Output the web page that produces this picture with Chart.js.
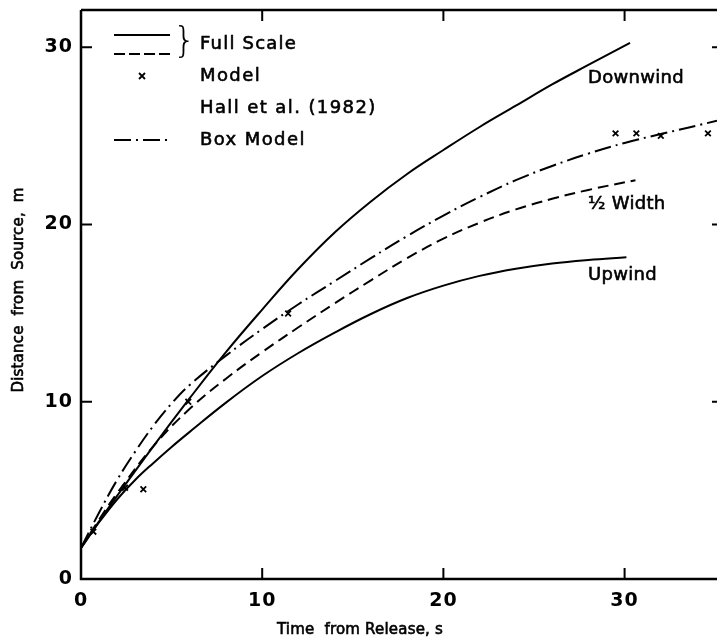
<!DOCTYPE html>
<html><head><meta charset="utf-8">
<script src="https://cdn.jsdelivr.net/npm/chart.js@4"></script>
<style>html,body{margin:0;padding:0;background:#fff}#wrap{position:relative;width:717px;height:644px}</style>
</head><body><div id="wrap"><canvas id="c" width="717" height="644"></canvas></div>
<script>
// ---- data ----
const xTickValues = [0, 10, 20, 30];
const yTickValues = [0, 10, 20, 30];
const downwindX = [0, 1, 2, 4, 6, 8, 10, 12, 14, 16, 18, 20, 22, 24, 26, 28, 30.3];
const downwindY = [1.75, 3.25, 4.7, 7.5, 10.2, 12.8, 15.2, 17.5, 19.55, 21.3, 22.85, 24.2, 25.5, 26.7, 27.9, 29.0, 30.25];
const halfWidthX = [0, 1, 2, 4, 6, 8, 10, 12, 14, 16, 18, 20, 22, 24, 26, 28, 30.6];
const halfWidthY = [1.75, 3.35, 4.85, 7.5, 9.6, 11.3, 12.8, 14.2, 15.55, 16.85, 18.1, 19.2, 20.1, 20.85, 21.45, 21.95, 22.5];
const upwindX = [0, 1, 2, 3, 4, 5, 6, 8, 10, 12, 14, 16, 18, 20, 22, 24, 26, 28, 30.1];
const upwindY = [1.75, 3.2, 4.5, 5.6, 6.55, 7.45, 8.3, 9.95, 11.45, 12.75, 13.9, 14.95, 15.85, 16.55, 17.1, 17.5, 17.8, 18.0, 18.15];
const boxX = [0, 1, 2, 3, 4, 5, 6, 8, 10, 12, 14, 16, 18, 20, 22, 24, 26, 28, 30, 32, 35.1];
const boxY = [1.75, 3.75, 5.6, 7.2, 8.65, 9.9, 10.95, 12.6, 14.1, 15.5, 16.8, 18.1, 19.35, 20.5, 21.55, 22.5, 23.3, 24.0, 24.6, 25.1, 25.85];
const modelX = [0.68, 2.43, 3.44, 5.92, 11.43, 29.5, 30.65, 32.0, 34.6];
const modelY = [2.67, 5.15, 5.06, 10.0, 14.98, 25.14, 25.14, 25.0, 25.14];
const curveLabels = ['Downwind', '½ Width', 'Upwind'];
const legendTexts = ['Full Scale', 'Model', 'Hall et al. (1982)', 'Box Model'];
const xTitle = 'Time  from Release, s';
const yTitle = 'Distance  from  Source,  m';

const FONT = '"DejaVu Sans", sans-serif';
const pts = (xs, ys) => xs.map((x, i) => ({x, y: ys[i]}));

function txt(ctx, s, x, y, spacing) {
  ctx.letterSpacing = spacing + 'px';
  ctx.lineWidth = 0.6;
  ctx.strokeText(s, x, y);
  ctx.fillText(s, x, y);
}
function noPad(s) { s.paddingTop = 0; s.paddingBottom = 0; s.paddingLeft = 0; s.paddingRight = 0; }

const decor = {
  id: 'decor',
  beforeDraw(chart) { chart.ctx.letterSpacing = '1px'; },
  afterDraw(chart) {
    const {ctx, chartArea: a, scales: {x, y}} = chart;
    ctx.save();
    ctx.letterSpacing = '0px';
    ctx.strokeStyle = '#000';
    ctx.fillStyle = '#000';
    ctx.lineWidth = 2.5;
    ctx.lineCap = 'butt';
    // axis frame: left, bottom, top
    ctx.beginPath();
    ctx.moveTo(a.left, a.top); ctx.lineTo(a.left, a.bottom); ctx.lineTo(a.right, a.bottom);
    ctx.moveTo(a.left, a.top); ctx.lineTo(a.right, a.top);
    ctx.stroke();
    // inward ticks
    ctx.lineWidth = 2;
    ctx.beginPath();
    xTickValues.slice(1).forEach(v => {
      const px = x.getPixelForValue(v);
      ctx.moveTo(px, a.bottom); ctx.lineTo(px, a.bottom - 11);
      ctx.moveTo(px, a.top); ctx.lineTo(px, a.top + 11);
    });
    yTickValues.slice(1).forEach(v => {
      const py = y.getPixelForValue(v);
      ctx.moveTo(a.left, py); ctx.lineTo(a.left + 11, py);
      ctx.moveTo(a.right, py); ctx.lineTo(a.right - 5, py);
    });
    ctx.stroke();

    // legend symbols
    ctx.lineWidth = 2;
    ctx.beginPath(); ctx.setLineDash([]);
    ctx.moveTo(114, 35); ctx.lineTo(170, 35); ctx.stroke();
    ctx.beginPath(); ctx.setLineDash([11, 4]);
    ctx.moveTo(114, 54); ctx.lineTo(172, 54); ctx.stroke();
    ctx.beginPath(); ctx.setLineDash([17, 5, 2, 5]);
    ctx.moveTo(114, 140); ctx.lineTo(172, 140); ctx.stroke();
    ctx.setLineDash([]);
    ctx.lineWidth = 1.8;
    ctx.beginPath();
    ctx.moveTo(139, 73); ctx.lineTo(145, 79); ctx.moveTo(145, 73); ctx.lineTo(139, 79);
    ctx.stroke();
    ctx.textBaseline = 'middle';
    ctx.textAlign = 'left';
    ctx.font = '200 36px ' + FONT;
    ctx.fillText('}', 173, 43);
    ctx.font = '18px ' + FONT;
    txt(ctx, legendTexts[0], 200, 44, 1.2);
    txt(ctx, legendTexts[1], 200, 76, 1.4);
    txt(ctx, legendTexts[2], 200, 108, 1.4);
    txt(ctx, legendTexts[3], 200, 140, 1.4);

    // curve labels
    ctx.font = '18px ' + FONT;
    txt(ctx, curveLabels[0], 588, 78, 0.3);
    txt(ctx, curveLabels[1], 588, 204, 0.3);
    txt(ctx, curveLabels[2], 588, 275, 0.3);

    // axis titles
    ctx.font = '15px ' + FONT;
    ctx.textAlign = 'center';
    txt(ctx, xTitle, 360, 630, 0.2);
    ctx.translate(19, 290);
    ctx.rotate(-Math.PI / 2);
    txt(ctx, yTitle, 0, 0, 0.2);
    ctx.restore();
  }
};

const lineDs = (xs, ys, dash) => ({data: pts(xs, ys), borderColor: '#000', borderWidth: 2, borderDash: dash, pointRadius: 0, tension: 0.4, fill: false});

new Chart(document.getElementById('c'), {
  type: 'line',
  data: {
    datasets: [
      lineDs(downwindX, downwindY, []),
      lineDs(halfWidthX, halfWidthY, [11, 6]),
      lineDs(upwindX, upwindY, []),
      lineDs(boxX, boxY, [17, 5, 2, 5]),
      {data: pts(modelX, modelY), showLine: false, pointStyle: 'crossRot', pointRadius: 4, pointBorderWidth: 1.8, borderColor: '#000', backgroundColor: '#000'}
    ]
  },
  options: {
    responsive: false,
    animation: false,
    layout: {autoPadding: false, padding: {top: 10, right: 0, left: 0, bottom: 0}},
    plugins: {legend: {display: false}, tooltip: {enabled: false}},
    scales: {
      x: {
        type: 'linear', min: 0, max: 35.1,
        grid: {display: false, drawTicks: false},
        border: {display: false},
        afterBuildTicks: s => { s.ticks = xTickValues.map(v => ({value: v})); },
        afterFit: s => { s.height = 65; noPad(s); },
        ticks: {color: '#000', padding: 11, maxRotation: 0, font: {family: FONT, size: 19, weight: 'bold'}}
      },
      y: {
        type: 'linear', min: 0, max: 32.1,
        grid: {display: false, drawTicks: false},
        border: {display: false},
        afterBuildTicks: s => { s.ticks = yTickValues.map(v => ({value: v})); },
        afterFit: s => { s.width = 81; noPad(s); },
        ticks: {color: '#000', padding: 8, font: {family: FONT, size: 19, weight: 'bold'}}
      }
    }
  },
  plugins: [decor]
});
</script></body></html>
